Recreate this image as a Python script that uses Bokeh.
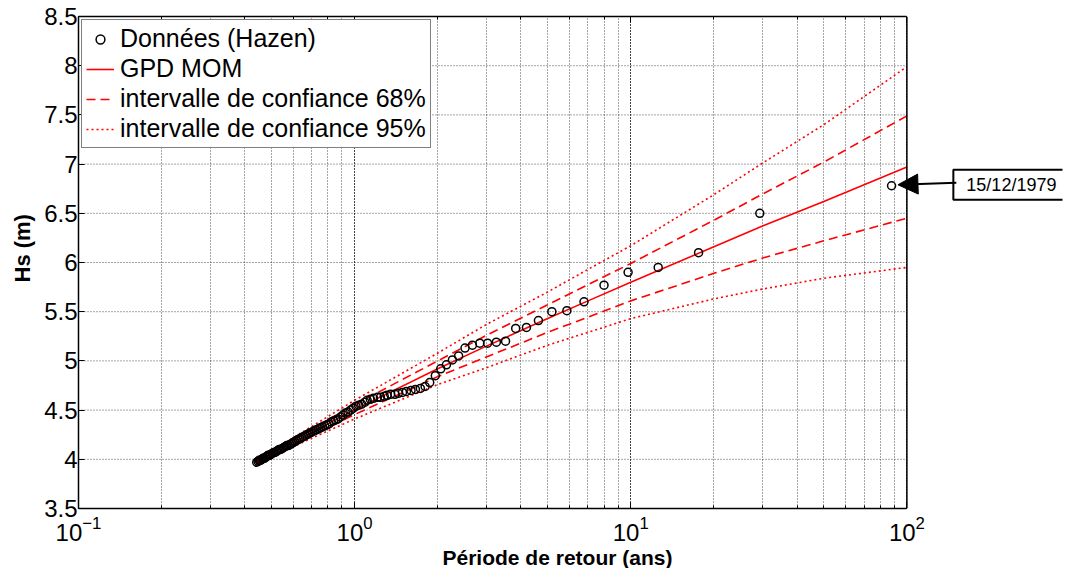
from bokeh.plotting import figure
from bokeh.models import (LogAxis, FixedTicker, LogTicker, Legend, LegendItem,
                          Label, Arrow, NormalHead, Range1d, Span, Title)
from bokeh.embed import file_html
from bokeh.resources import INLINE

# ---- observed storms (Hazen plotting positions) ----
return_period = [88.0, 29.33, 17.6, 12.57, 9.78, 8.0, 6.77, 5.87, 5.18, 4.63,
                 4.19, 3.83, 3.52, 3.26, 3.03, 2.84, 2.67, 2.51, 2.38, 2.26,
                 2.15, 2.05, 1.96, 1.87, 1.80, 1.73, 1.66, 1.60, 1.54, 1.49,
                 1.44, 1.40, 1.35, 1.31, 1.28, 1.24, 1.21, 1.17, 1.14, 1.11,
                 1.09, 1.06, 1.035, 1.011, 0.989, 0.967, 0.946, 0.926, 0.907, 0.889,
                 0.871, 0.854, 0.838, 0.822, 0.807, 0.793, 0.779, 0.765, 0.752, 0.740,
                 0.727, 0.715, 0.704, 0.693, 0.682, 0.672, 0.662, 0.652, 0.642, 0.633,
                 0.624, 0.615, 0.607, 0.599, 0.591, 0.583, 0.575, 0.568, 0.561, 0.554,
                 0.547, 0.540, 0.533, 0.527, 0.521, 0.515, 0.509, 0.503, 0.497, 0.492,
                 0.486, 0.481, 0.476, 0.471, 0.466, 0.461, 0.456, 0.451, 0.447, 0.442]
hs_observed = [6.78, 6.50, 6.10, 5.95, 5.90, 5.77, 5.60, 5.51, 5.50, 5.41,
               5.34, 5.33, 5.20, 5.19, 5.18, 5.18, 5.16, 5.13, 5.05, 5.01,
               4.96, 4.92, 4.85, 4.78, 4.74, 4.72, 4.71, 4.70, 4.69, 4.68,
               4.67, 4.66, 4.66, 4.65, 4.64, 4.63, 4.63, 4.62, 4.61, 4.60,
               4.58, 4.56, 4.55, 4.54, 4.52, 4.50, 4.48, 4.47, 4.45, 4.43,
               4.41, 4.40, 4.39, 4.38, 4.36, 4.35, 4.34, 4.33, 4.32, 4.31,
               4.30, 4.29, 4.28, 4.27, 4.26, 4.25, 4.24, 4.23, 4.22, 4.21,
               4.20, 4.19, 4.18, 4.17, 4.16, 4.15, 4.14, 4.14, 4.13, 4.12,
               4.11, 4.10, 4.10, 4.09, 4.08, 4.07, 4.07, 4.06, 4.05, 4.04,
               4.04, 4.03, 4.02, 4.01, 4.01, 4.00, 3.99, 3.99, 3.98, 3.97]

# ---- GPD (MOM) fit and confidence intervals ----
fit_period = [0.44, 0.5, 0.7, 1, 2, 3, 5, 7, 10, 20, 30, 50, 100]
gpd_mom = [3.97, 4.055, 4.275, 4.505, 4.92, 5.15, 5.43, 5.61, 5.80, 6.16, 6.37, 6.62, 6.97]
ci68_upper = [3.98, 4.07, 4.305, 4.555, 5.00, 5.26, 5.57, 5.775, 5.99, 6.43, 6.695, 7.02, 7.49]
ci68_lower = [3.96, 4.04, 4.245, 4.455, 4.84, 5.04, 5.29, 5.445, 5.61, 5.89, 6.045, 6.22, 6.45]
ci95_upper = [3.99, 4.085, 4.335, 4.60, 5.08, 5.37, 5.70, 5.93, 6.17, 6.69, 7.01, 7.40, 7.99]
ci95_lower = [3.95, 4.025, 4.215, 4.41, 4.76, 4.93, 5.16, 5.29, 5.43, 5.63, 5.73, 5.84, 5.95]

x_axis_limits = (0.1, 100)
y_axis_limits = (3.5, 8.5)
y_ticks = [3.5, 4, 4.5, 5, 5.5, 6, 6.5, 7, 7.5, 8, 8.5]
y_tick_labels = ["3.5", "4", "4.5", "5", "5.5", "6", "6.5", "7", "7.5", "8", "8.5"]

annot_text = "15/12/1979"

FONT = "Liberation Sans"
RED = "#ff0000"
GRID_ALPHA = 0.7

# the canvas extends past T=100 so that the date box and its arrow can be drawn
p = figure(width=1066, height=568, x_axis_type="log",
           x_range=Range1d(0.1, 366), y_range=Range1d(*y_axis_limits),
           output_backend="svg", toolbar_location=None,
           min_border_left=76, min_border_right=4, min_border_top=16, min_border_bottom=59)
p.background_fill_color = "white"
p.border_fill_color = "white"
p.outline_line_color = None

# grids
p.xgrid.bounds = x_axis_limits
p.xgrid.grid_line_color = "black"
p.xgrid.grid_line_alpha = GRID_ALPHA
p.xgrid.grid_line_dash = "1 2"
p.xgrid.minor_grid_line_color = "black"
p.xgrid.minor_grid_line_alpha = GRID_ALPHA
p.xgrid.minor_grid_line_dash = "1 2"
p.ygrid.visible = False
inner_y = [t for t in y_ticks if y_axis_limits[0] < t < y_axis_limits[1]]
p.multi_line(xs=[list(x_axis_limits) for _ in inner_y], ys=[[t, t] for t in inner_y],
             line_color="black", line_alpha=GRID_ALPHA, line_dash="1 2", line_width=1)

# axes
p.xaxis.bounds = x_axis_limits
p.yaxis.ticker = FixedTicker(ticks=y_ticks)
p.yaxis.major_label_overrides = {t: s for t, s in zip(y_ticks, y_tick_labels)}
for ax in (p.xaxis[0], p.yaxis[0]):
    ax.axis_line_color = "black"
    ax.axis_line_width = 1.5
    ax.major_tick_in = 6
    ax.major_tick_out = 0
    ax.minor_tick_in = 3
    ax.minor_tick_out = 0
    ax.major_label_text_font = FONT
    ax.major_label_text_font_size = "24px"
    ax.major_label_text_color = "black"
p.xaxis.major_label_standoff = 7
p.yaxis.major_label_standoff = 1

top_axis = LogAxis(ticker=LogTicker(), bounds=x_axis_limits, major_label_text_font_size="1px",
                   major_label_text_color=None, axis_line_color="black", axis_line_width=1.5,
                   major_tick_in=6, major_tick_out=0, minor_tick_in=3, minor_tick_out=0,
                   major_label_standoff=0)
p.add_layout(top_axis, "above")
p.add_layout(Span(location=x_axis_limits[1], dimension="height", line_color="black",
                  line_width=1.5))

# axis titles
p.add_layout(Title(text="Période de retour (ans)", align="left", offset=364,
                   text_font=FONT, text_font_style="bold", text_font_size="21px",
                   text_color="black", standoff=0), "below")
p.add_layout(Title(text="Hs (m)", align="left", offset=226,
                   text_font=FONT, text_font_style="bold", text_font_size="22px",
                   text_color="black", standoff=14), "left")

# lines
r95u = p.line(fit_period, ci95_upper, line_color=RED, line_width=1.6, line_dash="2 3")
r95l = p.line(fit_period, ci95_lower, line_color=RED, line_width=1.6, line_dash="2 3")
r68u = p.line(fit_period, ci68_upper, line_color=RED, line_width=1.6, line_dash="9 5")
r68l = p.line(fit_period, ci68_lower, line_color=RED, line_width=1.6, line_dash="9 5")
rfit = p.line(fit_period, gpd_mom, line_color=RED, line_width=1.6)
rpts = p.scatter(return_period, hs_observed, marker="circle", size=8,
                 fill_color=None, line_color="black", line_width=1.5)

legend = Legend(items=[
    LegendItem(label="Données (Hazen)", renderers=[rpts]),
    LegendItem(label="GPD MOM", renderers=[rfit]),
    LegendItem(label="intervalle de confiance 68%", renderers=[r68u]),
    LegendItem(label="intervalle de confiance 95%", renderers=[r95u]),
], location="top_left")
legend.label_text_font = FONT
legend.label_text_font_size = "25px"
legend.label_text_color = "black"
legend.border_line_color = "black"
legend.border_line_width = 1.8
legend.background_fill_color = "white"
legend.background_fill_alpha = 1
legend.glyph_width = 28
legend.glyph_height = 22
legend.label_height = 26
legend.label_standoff = 6
legend.spacing = 1
legend.padding = 4
legend.margin = 3
p.add_layout(legend)

# annotation of the largest storm
label = Label(x=239, y=6.79, text=annot_text, text_font=FONT,
              text_font_size="18px", text_color="black", text_align="center",
              text_baseline="middle", border_line_color="black", border_line_width=2,
              background_fill_color="white", padding=(13, 5))
p.add_layout(label)
arrow = Arrow(end=NormalHead(size=20, fill_color="black", line_color="black"),
              x_start=151, y_start=6.81, x_end=92.8, y_end=6.79,
              line_color="black", line_width=2)
p.add_layout(arrow)

open("out.html", "w").write(file_html(p, INLINE))
